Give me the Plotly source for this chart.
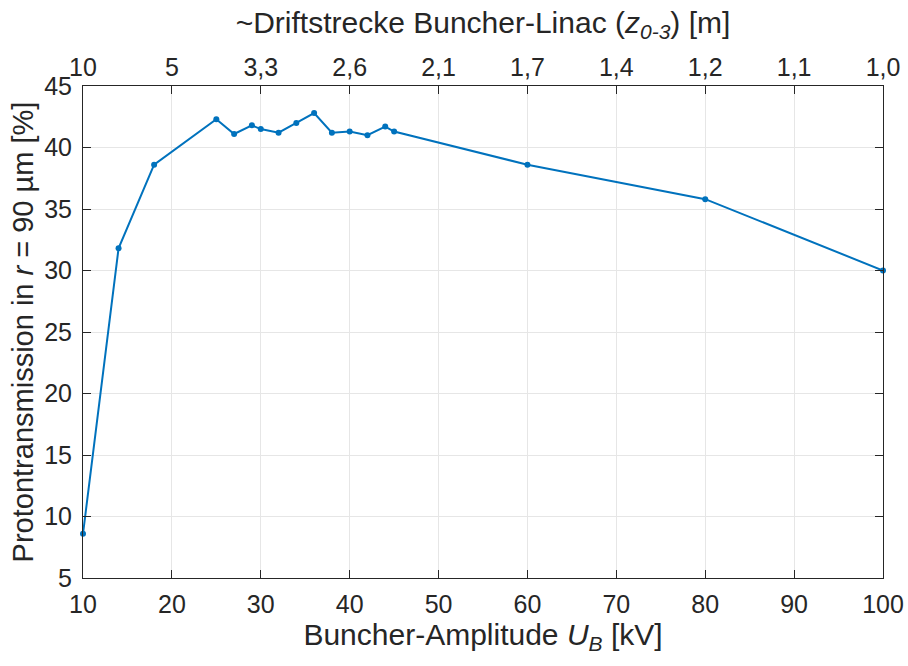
import plotly.graph_objects as go

amplitude_kV = [10, 14, 18, 25, 27, 29, 30, 32, 34, 36, 38, 40, 42, 44, 45, 60, 80, 100]
transmission_pct = [8.6, 31.8, 38.6, 42.3, 41.1, 41.8, 41.5, 41.2, 42.0, 42.8, 41.2, 41.3, 41.0, 41.7, 41.3, 38.6, 35.8, 30.0]

bottom_ticks = [10, 20, 30, 40, 50, 60, 70, 80, 90, 100]
top_tick_labels = ["10", "5", "3,3", "2,6", "2,1", "1,7", "1,4", "1,2", "1,1", "1,0"]
y_ticks = [5, 10, 15, 20, 25, 30, 35, 40, 45]

font = "Liberation Sans, Arial, sans-serif"
axis_col = "#262626"
grid_col = "#e6e6e6"
tick_size = 25

fig = go.Figure()
fig.add_trace(go.Scatter(
    x=amplitude_kV, y=transmission_pct, mode="lines+markers",
    line=dict(color="#0072BD", width=2), marker=dict(color="#0072BD", size=6),
    cliponaxis=False, showlegend=False))
# invisible trace for top axis
fig.add_trace(go.Scatter(x=[amplitude_kV[0], amplitude_kV[-1]], y=[transmission_pct[0], transmission_pct[-1]],
                         xaxis="x2", mode="markers", marker=dict(opacity=0), showlegend=False, hoverinfo="skip"))

fig.update_layout(
    width=908, height=666,
    margin=dict(l=83, r=25, t=86, b=88),
    paper_bgcolor="white", plot_bgcolor="white",
    xaxis=dict(range=[10, 100], tickvals=bottom_ticks, ticks="inside", ticklen=8, tickcolor=axis_col,
               showline=True, linecolor=axis_col, linewidth=1, mirror=True, automargin=False,
               showgrid=True, gridcolor=grid_col, zeroline=False, ticklabelstandoff=4,
               tickfont=dict(family=font, size=tick_size, color=axis_col),
               title=dict(text="Buncher-Amplitude <i>U</i><sub><i>B</i></sub> [kV]",
                          font=dict(family=font, size=30, color=axis_col), standoff=1)),
    xaxis2=dict(range=[10, 100], overlaying="x", side="top", tickvals=bottom_ticks, ticktext=top_tick_labels,
                ticks="inside", ticklen=8, tickcolor=axis_col, showline=False, showgrid=False, zeroline=False,
                automargin=False, ticklabelstandoff=4,
                tickfont=dict(family=font, size=tick_size, color=axis_col),
                title=dict(text="~Driftstrecke Buncher-Linac (<i>z</i><sub><i>0-3</i></sub>) [m]",
                           font=dict(family=font, size=30, color=axis_col), standoff=10)),
    yaxis=dict(range=[5, 45], tickvals=y_ticks, ticks="inside", ticklen=8, tickcolor=axis_col,
               showline=True, linecolor=axis_col, linewidth=1, mirror="ticks", automargin=False,
               showgrid=True, gridcolor=grid_col, zeroline=False, ticklabelstandoff=5,
               tickfont=dict(family=font, size=tick_size, color=axis_col),
               title=dict(text="Protontransmission in <i>r</i> = 90 µm [%]",
                          font=dict(family=font, size=29, color=axis_col), standoff=2)),
)

fig.write_html("out.html", config={"displayModeBar": False},
               post_script="document.body.style.margin='0px';document.body.style.overflow='hidden';")
